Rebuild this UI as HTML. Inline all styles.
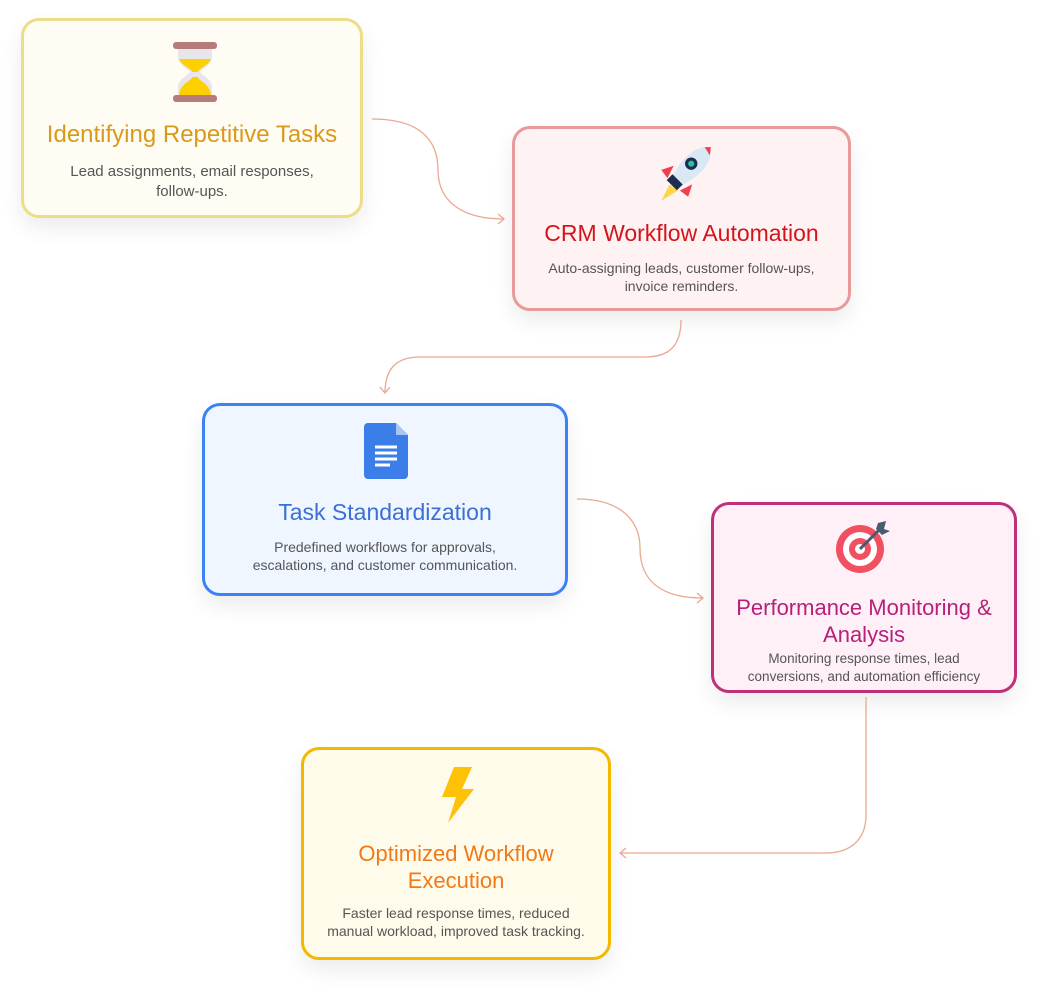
<!DOCTYPE html>
<html><head><meta charset="utf-8"><style>
body{margin:0;width:1059px;height:1005px;background:#fff;font-family:"Liberation Sans",sans-serif;position:relative;overflow:hidden}
.b{position:absolute;box-sizing:border-box;border-radius:18px;border:3px solid;box-shadow:0 10px 22px rgba(0,0,0,0.08);text-align:center}
.t{position:absolute;left:0;right:0;font-size:23px;line-height:27px}
.d{position:absolute;left:0;right:0;font-size:14px;line-height:18px;color:#555}
svg{position:absolute;left:0;top:0}
</style></head><body>
<div class="b" style="left:21px;top:18px;width:342px;height:200px;background:#fffcf3;border-color:#eedd88">
 <svg width="60" height="66" style="left:140px;top:18px" viewBox="0 0 60 66"><rect x="9" y="3" width="44" height="7" rx="3" fill="#b87b7b"/><rect x="9" y="56" width="44" height="7" rx="3" fill="#b87b7b"/><path d="M14 10h34v8c0 8-12 13-12 15s12 7 12 15v8H14v-8c0-8 12-13 12-15S14 26 14 18z" fill="#e8e6ea"/><path d="M15 20h32c-2 6-13 10-13 13h-6c0-3-11-7-13-13zM28 38h6c0 4 12 6 13 18H15c1-12 13-14 13-18z" fill="#ffd000"/></svg>
 <div class="t" style="top:100px;color:#d99a1a;font-size:24px">Identifying Repetitive Tasks</div>
 <div class="d" style="top:141px;font-size:15px;line-height:20px">Lead assignments, email responses,<br>follow-ups.</div>
</div>
<div class="b" style="left:512px;top:126px;width:339px;height:185px;background:#fff2f2;border-color:#e89a9a">
 <svg width="62" height="62" style="left:138px;top:14px" viewBox="0 0 60 60"><path d="M16 40 L8 56 L24 46z" fill="#ffd54a"/><path d="M20 22 L8 26 L14 34z M38 40 L34 52 L26 46z" fill="#f04050"/><path d="M52 4 C40 4 28 14 18 34 L26 42 C46 32 56 20 56 8z" fill="#d8e8f5"/><path d="M50 4 L56 4 L55 12z" fill="#f04050"/><rect x="14" y="34" width="14" height="8" transform="rotate(45 21 38)" fill="#1d2d50"/><circle cx="37" cy="20" r="6" fill="#1d2d50"/><circle cx="37" cy="20" r="3" fill="#2cc0a0"/></svg>
 <div class="t" style="top:91px;color:#d4141c">CRM Workflow Automation</div>
 <div class="d" style="top:130px">Auto-assigning leads, customer follow-ups,<br>invoice reminders.</div>
</div>
<div class="b" style="left:202px;top:403px;width:366px;height:193px;background:#eff6ff;border-color:#3b82f6">
 <svg width="46" height="56" style="left:159px;top:17px" viewBox="0 0 46 56"><path d="M4 0h28l12 12v40a4 4 0 0 1-4 4H4a4 4 0 0 1-4-4V4a4 4 0 0 1 4-4z" fill="#3b7de9"/><path d="M32 0v12h12z" fill="#a8c6f5"/><path d="M11 24h22M11 30h22M11 36h22M11 42h15" stroke="#fff" stroke-width="3"/></svg>
 <div class="t" style="top:93px;color:#3b6fd6">Task Standardization</div>
 <div class="d" style="top:132px">Predefined workflows for approvals,<br>escalations, and customer communication.</div>
</div>
<div class="b" style="left:711px;top:502px;width:306px;height:191px;background:#fff0f8;border-color:#c0307a">
 <svg width="60" height="56" style="left:120px;top:14px" viewBox="0 0 60 56"><circle cx="26" cy="30" r="24" fill="#f05060"/><circle cx="26" cy="30" r="17" fill="#fff"/><circle cx="26" cy="30" r="11" fill="#f05060"/><circle cx="26" cy="30" r="5" fill="#fff"/><path d="M26 30 L48 8" stroke="#4a5a70" stroke-width="3"/><path d="M44 4 L52 2 L50 10 L56 12 L48 16 L42 10z" fill="#4a5a70"/></svg>
 <div class="t" style="top:89px;color:#b81f78;font-size:22px">Performance Monitoring &amp;<br>Analysis</div>
 <div class="d" style="top:145px;font-size:13.5px;line-height:18px">Monitoring response times, lead<br>conversions, and automation efficiency</div>
</div>
<div class="b" style="left:301px;top:747px;width:310px;height:213px;background:#fffbeb;border-color:#f5b800">
 <svg width="40" height="56" style="left:134px;top:17px" viewBox="0 0 40 56"><path d="M16 0h18L24 22h12L10 56l8-26H4z" fill="#ffc107"/></svg>
 <div class="t" style="top:90px;color:#f07a1a;font-size:22px">Optimized Workflow<br>Execution</div>
 <div class="d" style="top:154px">Faster lead response times, reduced<br>manual workload, improved task tracking.</div>
</div>
<svg width="1059" height="1005" fill="none" stroke="#eaa890" stroke-width="1.3">
<path d="M372 119 C420 119 438 140 438 170 C438 200 460 219 504 219"/><path d="M498 214 L504 219 L498 224"/>
<path d="M681 320 C681 345 670 357 645 357 L420 357 C395 357 385 370 385 393"/><path d="M380 387 L385 393 L390 387"/>
<path d="M577 499 C620 499 640 520 640 548 C640 580 660 598 703 598"/><path d="M697 593 L703 598 L697 603"/>
<path d="M866 697 L866 815 C866 840 850 853 826 853 L620 853"/><path d="M626 848 L620 853 L626 858"/>
</svg>
</body></html>
